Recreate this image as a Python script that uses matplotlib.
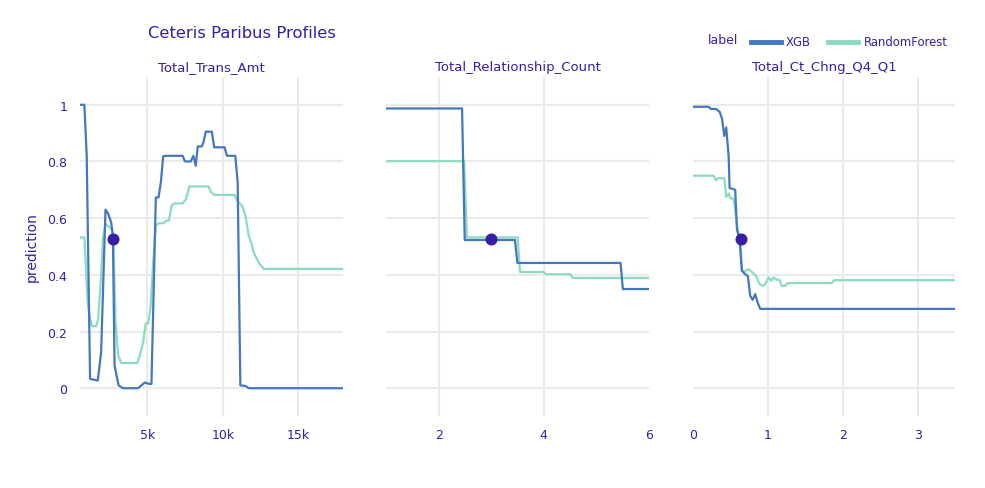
import matplotlib
matplotlib.use("Agg")
import matplotlib.pyplot as plt

plt.rcParams['font.family'] = ['DejaVu Sans']

TITLE = "Ceteris Paribus Profiles"
PANELS = ["Total_Trans_Amt", "Total_Relationship_Count", "Total_Ct_Chng_Q4_Q1"]
MODELS = ["XGB", "RandomForest"]
COLORS = {"XGB": "#4378bf", "RandomForest": "#8bdcbe"}
TXT = "#371ea3"

# Panel 1: Total_Trans_Amt
amt_x_xgb = [533, 822, 978, 1200, 1711, 1933, 2222, 2378, 2600, 2711, 2822, 3089, 3378, 4378, 4822, 5156,
             5267, 5556, 5733, 5889, 6044, 6222, 7333, 7489, 7867, 8044, 8200, 8333, 8600, 8711, 8867,
             9267, 9422, 10111, 10267, 10822, 10978, 11156, 11489, 11711, 17956]
amt_y_xgb = [1.0, 1.0, 0.82, 0.033, 0.027, 0.127, 0.63, 0.618, 0.585, 0.54, 0.08, 0.01, 0.0, 0.0, 0.02, 0.015,
             0.015, 0.673, 0.673, 0.726, 0.818, 0.82, 0.82, 0.8, 0.8, 0.82, 0.785, 0.853, 0.853, 0.867, 0.905,
             0.905, 0.85, 0.85, 0.82, 0.82, 0.726, 0.01, 0.008, 0.0, 0.0]
amt_x_rf = [533, 822, 1044, 1200, 1333, 1600, 1733, 1933, 2044, 2222, 2489, 2667, 2756, 2889, 3067, 3267,
            4333, 4489, 4711, 4889, 5044, 5200, 5378, 5556, 5733, 6089, 6222, 6422, 6600, 6778, 7333, 7556,
            7778, 9044, 9200, 9422, 10778, 10933, 11267, 11489, 11711, 11867, 12044, 12267, 12444, 12711, 17956]
amt_y_rf = [0.532, 0.532, 0.303, 0.244, 0.219, 0.219, 0.242, 0.397, 0.526, 0.579, 0.568, 0.556, 0.5, 0.233,
            0.115, 0.089, 0.089, 0.115, 0.162, 0.229, 0.229, 0.28, 0.444, 0.573, 0.582, 0.582, 0.591, 0.591,
            0.644, 0.652, 0.652, 0.667, 0.712, 0.712, 0.693, 0.682, 0.682, 0.662, 0.644, 0.609, 0.538, 0.515,
            0.479, 0.454, 0.438, 0.421, 0.421]

# Panel 2: Total_Relationship_Count
rel_x_xgb = [1.0, 2.446, 2.497, 3.452, 3.497, 5.459, 5.503, 6.0]
rel_y_xgb = [0.987, 0.987, 0.523, 0.523, 0.442, 0.442, 0.35, 0.35]
rel_x_rf = [1.0, 2.484, 2.54, 3.503, 3.548, 3.994, 4.045, 4.503, 4.548, 6.0]
rel_y_rf = [0.801, 0.801, 0.532, 0.532, 0.41, 0.41, 0.402, 0.402, 0.389, 0.389]

# Panel 3: Total_Ct_Chng_Q4_Q1
chg_x_xgb = [0.0, 0.209, 0.24, 0.311, 0.356, 0.387, 0.418, 0.444, 0.476, 0.489, 0.533, 0.564, 0.587, 0.622,
             0.653, 0.698, 0.733, 0.764, 0.796, 0.831, 0.862, 0.898, 3.498]
chg_y_xgb = [0.993, 0.993, 0.985, 0.985, 0.975, 0.952, 0.89, 0.92, 0.818, 0.706, 0.703, 0.7, 0.56, 0.526,
             0.414, 0.402, 0.396, 0.326, 0.312, 0.332, 0.303, 0.28, 0.28]
chg_x_rf = [0.0, 0.276, 0.307, 0.333, 0.418, 0.444, 0.476, 0.498, 0.542, 0.564, 0.596, 0.631, 0.653, 0.698,
            0.742, 0.787, 0.844, 0.889, 0.933, 0.964, 1.009, 1.04, 1.076, 1.12, 1.156, 1.187, 1.231, 1.262,
            1.853, 1.884, 3.498]
chg_y_rf = [0.75, 0.75, 0.733, 0.741, 0.741, 0.675, 0.687, 0.671, 0.668, 0.63, 0.56, 0.526, 0.414, 0.414,
            0.42, 0.41, 0.396, 0.367, 0.361, 0.367, 0.391, 0.379, 0.391, 0.382, 0.382, 0.361, 0.361, 0.371,
            0.371, 0.381, 0.381]

# observation points
obs_x = [2700, 3.0, 0.64]
obs_y = [0.527, 0.526, 0.526]

x_limits = [(533, 17956), (1.0, 6.0), (0.0, 3.5)]
x_ticks = [[5000, 10000, 15000], [2, 4, 6], [0, 1, 2, 3]]
x_ticklabels = [["5k", "10k", "15k"], ["2", "4", "6"], ["0", "1", "2", "3"]]
y_ticks = [0, 0.2, 0.4, 0.6, 0.8, 1.0]
y_ticklabels = ["0", "0.2", "0.4", "0.6", "0.8", "1"]

series = [
    {"XGB": (amt_x_xgb, amt_y_xgb), "RandomForest": (amt_x_rf, amt_y_rf)},
    {"XGB": (rel_x_xgb, rel_y_xgb), "RandomForest": (rel_x_rf, rel_y_rf)},
    {"XGB": (chg_x_xgb, chg_y_xgb), "RandomForest": (chg_x_rf, chg_y_rf)},
]

W, H = 985, 489
fig = plt.figure(figsize=(W / 100, H / 100), dpi=100)
panel_px = [(80, 343), (386, 649), (693, 955)]
top_px, bot_px = 78, 417

axes = []
for i, (l, r) in enumerate(panel_px):
    ax = fig.add_axes([l / W, (H - bot_px) / H, (r - l) / W, (bot_px - top_px) / H])
    axes.append(ax)
    for m in MODELS[::-1]:
        xs, ys = series[i][m]
        ax.plot(xs, ys, color=COLORS[m], lw=1.6, zorder=3 if m == "XGB" else 2)
    ax.scatter([obs_x[i]], [obs_y[i]], s=75, color=TXT, zorder=5, linewidths=0)
    ax.set_xlim(*x_limits[i])
    ax.set_ylim(-0.098, 1.098)
    ax.set_xticks(x_ticks[i])
    ax.set_xticklabels(x_ticklabels[i])
    ax.set_yticks(y_ticks)
    if i == 0:
        ax.set_yticklabels(y_ticklabels)
    else:
        ax.set_yticklabels([])
    ax.grid(True, color="#ebebeb", lw=1.5, zorder=0)
    ax.set_axisbelow(True)
    lo, hi = x_limits[i]
    for t, gl in zip(x_ticks[i], ax.get_xgridlines()):
        if abs(t - lo) < 1e-9 or abs(t - hi) < 1e-9:
            gl.set_visible(False)
    for s in ax.spines.values():
        s.set_visible(False)
    ax.tick_params(length=0, colors=TXT, labelsize=9, pad=9)
    ax.text(0.5, 1.012, PANELS[i], transform=ax.transAxes, ha="center", va="bottom",
            color=TXT, fontsize=9.5)

axes[0].set_ylabel("prediction", color=TXT, fontsize=10, labelpad=6)

fig.text(148 / W, 1 - 33 / H, TITLE, color=TXT, fontsize=11.8, ha="left", va="center")

# legend
fig.text(708 / W, 1 - 40 / H, "label", color=TXT, fontsize=9, ha="left", va="center")
leg_items = [(751, 786, "XGB"), (828, 864, "RandomForest")]
for x0, xt, m in leg_items:
    fig.add_artist(plt.Line2D([x0 / W, (x0 + 30) / W], [1 - 43 / H, 1 - 43 / H],
                              color=COLORS[m], lw=3.5, transform=fig.transFigure))
    fig.text(xt / W, 1 - 43 / H, m, color=TXT, fontsize=8.4, ha="left", va="center")

fig.savefig("out.png", dpi=100, facecolor="white")
